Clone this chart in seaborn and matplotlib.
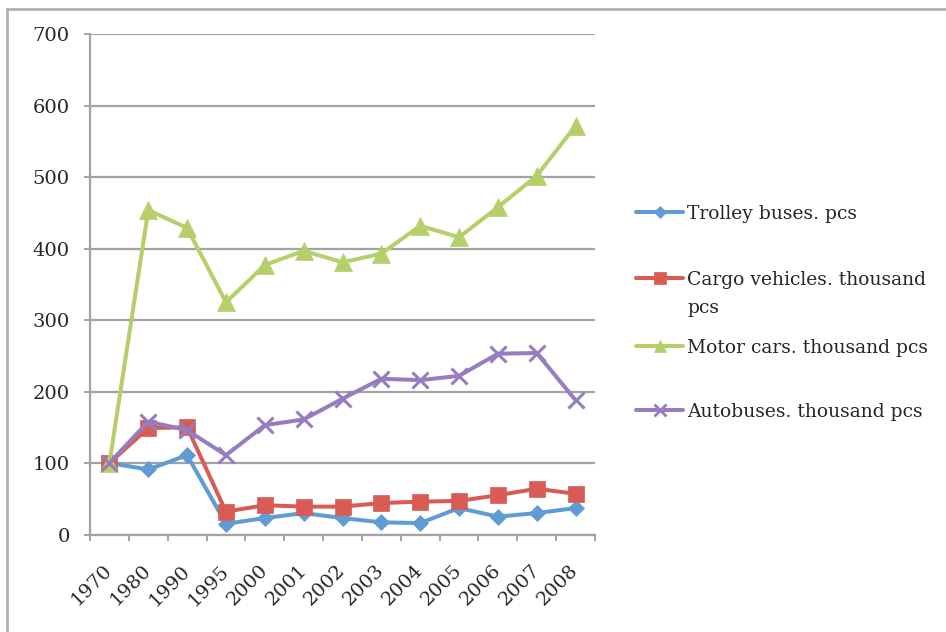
import matplotlib
matplotlib.use("Agg")
import matplotlib.pyplot as plt
import seaborn as sns
import numpy as np
import pandas as pd
from matplotlib.lines import Line2D

# Vehicle fleet index values by year
years = ["1970", "1980", "1990", "1995", "2000", "2001", "2002",
         "2003", "2004", "2005", "2006", "2007", "2008"]
trolley_buses = [100, 91, 111, 15, 23, 30, 23, 17, 16, 37, 25, 30, 37]
cargo_vehicles = [100, 149, 150, 32, 41, 39, 39, 44, 46, 47, 55, 64, 57]
motor_cars = [100, 454, 429, 325, 377, 397, 381, 393, 432, 416, 458, 502, 572]
autobuses = [100, 158, 146, 111, 153, 161, 190, 218, 216, 222, 253, 254, 188]

series_labels = ["Trolley buses. pcs",
                 "Cargo vehicles. thousand\npcs",
                 "Motor cars. thousand pcs",
                 "Autobuses. thousand pcs"]
y_ticks = [0, 100, 200, 300, 400, 500, 600, 700]

sns.set_style("white")
plt.rcParams["font.family"] = ["DejaVu Serif"]
FS = 14
LEG_FS = 13.5

colors = ["#5f9bd5", "#d85c53", "#b5cf6b", "#977dbf"]
markers = ["D", "s", "^", "x"]
msizes = [8, 12, 13, 12]
legend_msizes = [6, 9, 9, 9]

W, H = 946, 632
fig = plt.figure(figsize=(W / 100, H / 100), dpi=100)
ax = fig.add_axes([90 / W, 1 - 534.5 / H, (595 - 90) / W, (534.5 - 34.3) / H])

x = np.arange(len(years))
all_series = [trolley_buses, cargo_vehicles, motor_cars, autobuses]
for vals, c, m, ms in zip(all_series, colors, markers, msizes):
    df = pd.DataFrame({"pos": x, "value": vals})
    sns.lineplot(data=df, x="pos", y="value", ax=ax, color=c, linewidth=2.9,
                 marker=m, markersize=ms, markeredgecolor=c,
                 markeredgewidth=2.2 if m == "x" else 0.5, legend=False)

ax.set_xlim(-0.5, len(years) - 0.5)
ax.set_ylim(0, 700)
ax.set_yticks(y_ticks)
ax.set_yticklabels([str(v) for v in y_ticks], fontsize=FS)
ax.set_xlabel("")
ax.set_ylabel("")

grid_c = "#a3a3a3"
ax.yaxis.grid(True, color=grid_c, linewidth=1.6)
ax.xaxis.grid(False)
ax.set_axisbelow(True)
for side in ["top", "right"]:
    ax.spines[side].set_visible(False)
for side in ["left", "bottom"]:
    ax.spines[side].set_color(grid_c)
    ax.spines[side].set_linewidth(1.6)

ax.tick_params(axis="y", direction="out", length=4.5, width=1.4, color=grid_c,
               pad=10, labelsize=FS, left=True)

# Category labels at centres, tick marks on category boundaries
ax.set_xticks(x)
ax.set_xticklabels(years, fontsize=FS, rotation=45, ha="right",
                   rotation_mode="anchor")
ax.tick_params(axis="x", which="major", length=0, pad=24)
ax.set_xticks(np.arange(-0.5, len(years)), minor=True)
ax.tick_params(axis="x", which="minor", direction="out", length=4.5,
               width=1.4, color=grid_c, bottom=True)
for lab in ax.get_xticklabels():
    lab.set_verticalalignment("center")

# Legend drawn beside the plot area
leg_rows = [211.7, 278, 346, 410]
line_gap = 28
for (lbl, c, m, ms, yy) in zip(series_labels, colors, markers, legend_msizes, leg_rows):
    fy = 1 - yy / H
    fig.add_artist(Line2D([636 / W, 683 / W], [fy, fy], transform=fig.transFigure,
                          color=c, linewidth=2.9))
    fig.add_artist(Line2D([659.5 / W], [fy], transform=fig.transFigure,
                          color=c, marker=m, markersize=ms, markeredgecolor=c,
                          markeredgewidth=2.0 if m == "x" else 0.5, linestyle="none"))
    for i, part in enumerate(lbl.split("\n")):
        fig.text(687 / W, 1 - (yy + i * line_gap) / H, part, fontsize=LEG_FS,
                 ha="left", va="center_baseline", transform=fig.transFigure)

# Outer chart frame
frame_c = "#b0b0b0"
fig.add_artist(Line2D([7 / W, 1.0], [1 - 9 / H, 1 - 9 / H], transform=fig.transFigure,
                      color=frame_c, linewidth=2))
fig.add_artist(Line2D([7 / W, 7 / W], [0, 1 - 9 / H], transform=fig.transFigure,
                      color=frame_c, linewidth=2))

fig.savefig("out.png", dpi=100)
